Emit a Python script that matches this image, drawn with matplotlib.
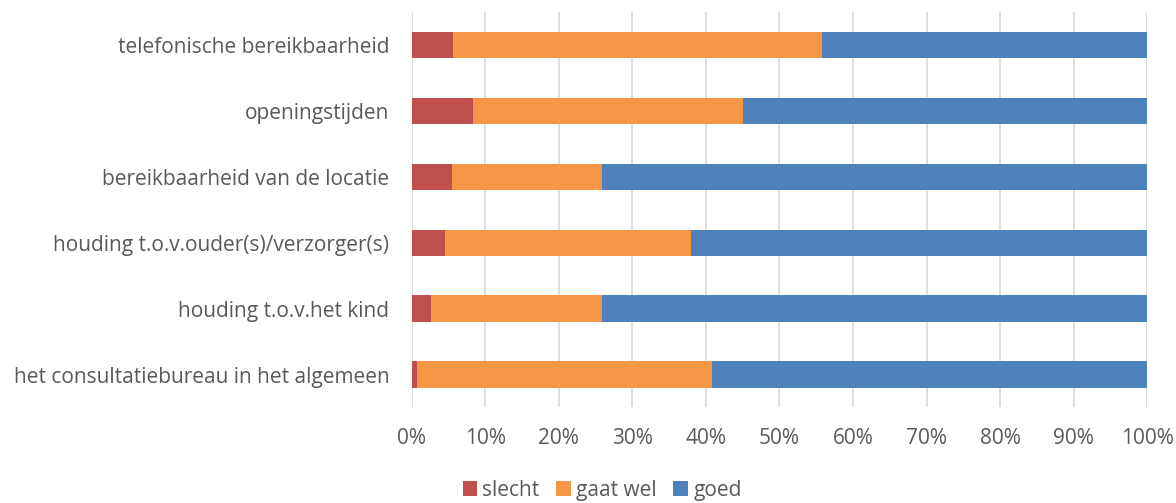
import matplotlib.pyplot as plt
import numpy as np

# categorieen (van boven naar beneden)
categorieen = [
    "telefonische bereikbaarheid",
    "openingstijden",
    "bereikbaarheid van de locatie",
    "houding t.o.v.ouder(s)/verzorger(s)",
    "houding t.o.v.het kind",
    "het consultatiebureau in het algemeen",
]
slecht = [5.6, 8.4, 5.5, 4.6, 2.7, 0.8]
gaat_wel = [50.2, 36.6, 20.4, 33.4, 23.2, 40.0]
goed = [44.2, 55.0, 74.1, 62.0, 74.1, 59.2]
ticks = [0, 10, 20, 30, 40, 50, 60, 70, 80, 90, 100]

plt.rcParams['font.family'] = ['Open Sans', 'DejaVu Sans']
tekst = '#595959'

fig = plt.figure(figsize=(11.76, 5.03), dpi=100)
ax = fig.add_axes([0.35, 0.19, 0.6255, 0.7855])

y = np.arange(len(categorieen))
slecht = np.array(slecht)
gaat_wel = np.array(gaat_wel)
goed = np.array(goed)

h = 0.4
ax.barh(y, slecht, height=h, color='#C0504D', label='slecht')
ax.barh(y, gaat_wel, left=slecht, height=h, color='#F79646', label='gaat wel')
ax.barh(y, goed, left=slecht + gaat_wel, height=h, color='#4F81BD', label='goed')

ax.set_xlim(0, 100)
ax.set_ylim(len(categorieen) - 0.5, -0.5)
ax.set_xticks(ticks)
ax.set_xticklabels([f"{t}%" for t in ticks])
ax.set_yticks(y)
ax.set_yticklabels(categorieen)

ax.grid(axis='x', color='#d9d9d9', linewidth=1.2)
ax.set_axisbelow(True)
for s in ax.spines.values():
    s.set_visible(False)
ax.tick_params(axis='both', length=0, colors=tekst, labelsize=15)
ax.tick_params(axis='x', pad=15)
ax.tick_params(axis='y', pad=16)

fig.legend(*ax.get_legend_handles_labels(), loc='center', bbox_to_anchor=(0.512, 0.025),
           ncol=3, frameon=False, fontsize=15, handlelength=0.7, handleheight=0.7,
           handletextpad=0.25, columnspacing=0.8, labelcolor=tekst, borderpad=0)

fig.savefig('out.png', dpi=100)
